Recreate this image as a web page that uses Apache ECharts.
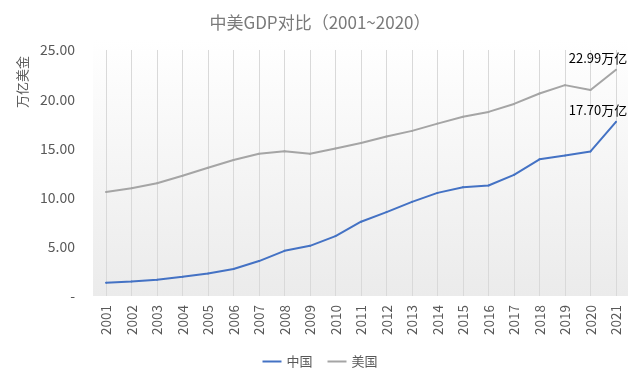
<!DOCTYPE html>
<html><head><meta charset="utf-8">
<script src="https://cdn.jsdelivr.net/npm/echarts@6/dist/echarts.min.js"></script>
<style>html,body{margin:0;padding:0;background:#fff}#c{width:640px;height:372px}</style>
</head><body><div id="c"></div>
<script>
var years = ['2001','2002','2003','2004','2005','2006','2007','2008','2009','2010','2011','2012','2013','2014','2015','2016','2017','2018','2019','2020','2021'];
var china = [1.34,1.47,1.66,1.96,2.29,2.75,3.55,4.59,5.10,6.09,7.55,8.53,9.57,10.48,11.06,11.23,12.31,13.89,14.28,14.69,17.70];
var usa = [10.58,10.94,11.46,12.22,13.04,13.82,14.45,14.71,14.45,15.00,15.54,16.20,16.78,17.52,18.22,18.71,19.52,20.58,21.43,20.94,22.99];
var yTicks = [0,5,10,15,20,25];

var chart = echarts.init(document.getElementById('c'));
var F = '"Noto Sans CJK SC", "Noto Sans", sans-serif';
function endLabel(p){ return p.dataIndex === years.length-1 ? p.value.toFixed(2) + '万亿' : ''; }
var lbl = {show:true,position:'top',distance:4,offset:[-18,0],color:'#000',fontSize:13,fontFamily:F,formatter:endLabel};
chart.setOption({
  animation:false,
  textStyle:{fontFamily:F},
  title:{text:'中美GDP对比（2001~2020）',left:'center',top:9,textStyle:{color:'#7a7a7a',fontSize:17,fontWeight:'normal',fontFamily:F}},
  graphic:[
    {type:'rect',z:-10,silent:true,shape:{x:93,y:40,width:535,height:256},
     style:{fill:new echarts.graphic.LinearGradient(0,0,0,1,[{offset:0,color:'#ffffff'},{offset:1,color:'#ebebeb'}])}},
    {type:'text',x:16,y:108,rotation:Math.PI/2,style:{text:'万亿美金',fill:'#595959',font:'13px '+F,textAlign:'left',textVerticalAlign:'top'}}
  ],
  legend:{top:350,left:'center',itemWidth:19,itemHeight:2,itemGap:15,icon:'rect',
    textStyle:{color:'#595959',fontSize:13,fontFamily:F},data:['中国','美国']},
  grid:{left:106,right:24,top:50,bottom:76},
  xAxis:{type:'category',data:years,boundaryGap:false,
    axisLine:{show:false},axisTick:{show:false},
    axisLabel:{rotate:90,color:'#595959',fontSize:13.5,margin:9,fontFamily:F},
    splitLine:{show:true,lineStyle:{color:'#d9d9d9',width:1}}},
  yAxis:{type:'value',min:0,max:25,interval:5,
    axisLine:{show:false},axisTick:{show:false},splitLine:{show:false},
    axisLabel:{color:'#595959',fontSize:14,margin:31,fontFamily:F,
      formatter:function(v){return v===0?'-':v.toFixed(2);}}},
  series:[
    {name:'中国',type:'line',data:china,symbol:'circle',symbolSize:2,showSymbol:true,showAllSymbol:true,
     lineStyle:{color:'#4472C4',width:2},itemStyle:{color:'#4472C4'},
     label:lbl},
    {name:'美国',type:'line',data:usa,symbol:'circle',symbolSize:2,showSymbol:true,showAllSymbol:true,
     lineStyle:{color:'#A5A5A5',width:2},itemStyle:{color:'#A5A5A5'},
     label:lbl}
  ]
});
</script></body></html>
